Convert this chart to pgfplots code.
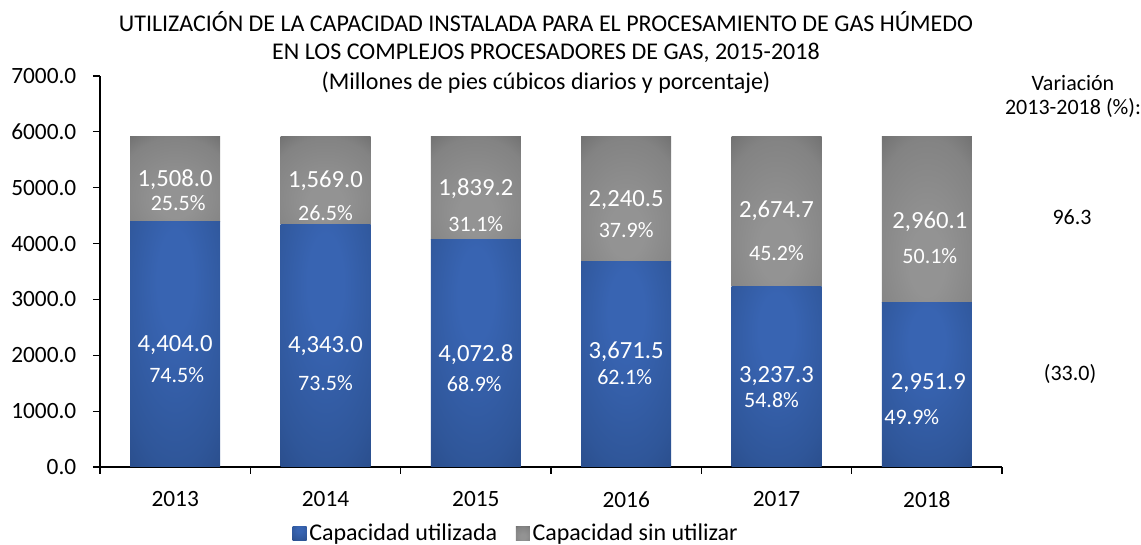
\documentclass[border=0pt]{standalone}
\usepackage{fontspec}
\setmainfont{Carlito}
\usepackage{pgfplots}
\pgfplotsset{compat=1.18}

\definecolor{blight}{HTML}{3864B2}
\definecolor{bmid}{HTML}{2F5699}
\definecolor{bedge}{HTML}{284A86}
\definecolor{bdark}{HTML}{1A2C50}
\definecolor{glight}{HTML}{939393}
\definecolor{gmid}{HTML}{838383}
\definecolor{gedge}{HTML}{686868}
\definecolor{gdark}{HTML}{404040}

\pgfdeclareradialshading{bluerad}{\pgfpoint{0bp}{15bp}}{color(0bp)=(blight); color(10bp)=(blight); color(33bp)=(bmid); color(45bp)=(bedge); color(54bp)=(bdark); color(75bp)=(bdark)}
\pgfdeclareradialshading{grayrad}{\pgfpoint{0bp}{-15bp}}{color(0bp)=(glight); color(10bp)=(glight); color(33bp)=(gmid); color(45bp)=(gedge); color(54bp)=(gdark); color(75bp)=(gdark)}

\tikzset{
  lbl/.style={text=white, font=\fontsize{18.5}{21}\selectfont, inner sep=0pt},
  pct/.style={text=white, font=\fontsize{16.5}{19}\selectfont, inner sep=0pt},
  usedbar/.style={draw=none, shading=bluerad, shade},
  freebar/.style={draw=none, shading=grayrad, shade},
  resetbar/.style={draw=none, fill=none},
}

\begin{document}
\begin{tikzpicture}
\useasboundingbox (0,0) rectangle (855.75pt,408.75pt);
\begin{axis}[
  at={(75pt,58.5pt)}, anchor=south west,
  scale only axis, width=676.5pt, height=293.25pt,
  xmin=-0.5, xmax=5.5, ymin=0, ymax=7000,
  ybar stacked, stack negative=on previous, bar width=67.5pt,
  axis x line=bottom, axis y line=left, axis line style={-, black, line width=0.9pt},
  xtick={0,...,5}, xticklabels={2013,2014,2015,2016,2017,2018},
  minor xtick={-0.5,0.5,...,5.5},
  ytick={0,1000,...,7000},
  tick align=outside,
  major tick length=5.25pt, minor tick length=5.25pt,
  major x tick style={draw=none},
  minor x tick style={black, line width=0.9pt},
  major y tick style={black, line width=0.9pt},
  /pgf/number format/assume math mode=true,
  yticklabel={\pgfmathprintnumber[fixed,fixed zerofill,precision=1,1000 sep={}]{\tick}},
  ticklabel style={font=\fontsize{17.5}{20}\selectfont, text=black},
  x tick label style={yshift=-9.5pt},
  y tick label style={xshift=-9pt},
  legend style={at={(0.4617,-0.169)}, anchor=center, draw=none, fill=none,
    legend columns=2, font=\fontsize{18}{20}\selectfont,
    /tikz/every even column/.append style={column sep=12pt},
    /tikz/every odd column/.append style={column sep=0pt}},
  legend image code/.code={\path[#1] (0pt,-5.25pt) rectangle (10.5pt,5.25pt);},
]
% 2013
\addplot[usedbar] coordinates {(0,4404.0)};
\addlegendentry{Capacidad utilizada}
\addplot[freebar] coordinates {(0,1508.0)};
\addlegendentry{Capacidad sin utilizar}
\addplot[resetbar, forget plot] coordinates {(0,-5912.0)};
% 2014
\addplot[usedbar, forget plot] coordinates {(1,4343.0)};
\addplot[freebar, forget plot] coordinates {(1,1569.0)};
\addplot[resetbar, forget plot] coordinates {(1,-5912.0)};
% 2015
\addplot[usedbar, forget plot] coordinates {(2,4072.8)};
\addplot[freebar, forget plot] coordinates {(2,1839.2)};
\addplot[resetbar, forget plot] coordinates {(2,-5912.0)};
% 2016
\addplot[usedbar, forget plot] coordinates {(3,3671.5)};
\addplot[freebar, forget plot] coordinates {(3,2240.5)};
\addplot[resetbar, forget plot] coordinates {(3,-5912.0)};
% 2017
\addplot[usedbar, forget plot] coordinates {(4,3237.3)};
\addplot[freebar, forget plot] coordinates {(4,2674.7)};
\addplot[resetbar, forget plot] coordinates {(4,-5912.0)};
% 2018
\addplot[usedbar, forget plot] coordinates {(5,2951.9)};
\addplot[freebar, forget plot] coordinates {(5,2960.1)};

\coordinate (a1) at (axis cs:0,5138);
\coordinate (a2) at (axis cs:0.02,4726);
\coordinate (a3) at (axis cs:0,2184);
\coordinate (a4) at (axis cs:0.01,1647);
\coordinate (b1) at (axis cs:1,5120);
\coordinate (b2) at (axis cs:1,4547);
\coordinate (b3) at (axis cs:1,2166);
\coordinate (b4) at (axis cs:1,1504);
\coordinate (c1) at (axis cs:2,4977);
\coordinate (c2) at (axis cs:2,4350);
\coordinate (c3) at (axis cs:2,2005);
\coordinate (c4) at (axis cs:1.99,1486);
\coordinate (d1) at (axis cs:3,4780);
\coordinate (d2) at (axis cs:3,4243);
\coordinate (d3) at (axis cs:3,2059);
\coordinate (d4) at (axis cs:2.99,1611);
\coordinate (e1) at (axis cs:4,4583);
\coordinate (e2) at (axis cs:4,3831);
\coordinate (e3) at (axis cs:4,1629);
\coordinate (e4) at (axis cs:3.967,1199);
\coordinate (f1) at (axis cs:5.02,4386);
\coordinate (f2) at (axis cs:5.02,3777);
\coordinate (f3) at (axis cs:5.01,1504);
\coordinate (f4) at (axis cs:4.9,895);
\end{axis}

\node[lbl] at (a1) {1,508.0};
\node[pct] at (a2) {25.5\%};
\node[lbl] at (a3) {4,404.0};
\node[pct] at (a4) {74.5\%};
\node[lbl] at (b1) {1,569.0};
\node[pct] at (b2) {26.5\%};
\node[lbl] at (b3) {4,343.0};
\node[pct] at (b4) {73.5\%};
\node[lbl] at (c1) {1,839.2};
\node[pct] at (c2) {31.1\%};
\node[lbl] at (c3) {4,072.8};
\node[pct] at (c4) {68.9\%};
\node[lbl] at (d1) {2,240.5};
\node[pct] at (d2) {37.9\%};
\node[lbl] at (d3) {3,671.5};
\node[pct] at (d4) {62.1\%};
\node[lbl] at (e1) {2,674.7};
\node[pct] at (e2) {45.2\%};
\node[lbl] at (e3) {3,237.3};
\node[pct] at (e4) {54.8\%};
\node[lbl] at (f1) {2,960.1};
\node[pct] at (f2) {50.1\%};
\node[lbl] at (f3) {2,951.9};
\node[pct] at (f4) {49.9\%};

\begin{scope}[every node/.style={font=\fontsize{18}{21}\selectfont, inner sep=0pt}]
\node at (409.5pt,392.25pt) {UTILIZACIÓN DE LA CAPACIDAD INSTALADA PARA EL PROCESAMIENTO DE GAS HÚMEDO};
\node at (409.5pt,369pt) {EN LOS COMPLEJOS PROCESADORES DE GAS, 2015-2018};
\node at (409.5pt,346.5pt) {(Millones de pies cúbicos diarios y porcentaje)};
\end{scope}
\begin{scope}[every node/.style={font=\fontsize{16.5}{19}\selectfont, inner sep=0pt}]
\node at (804.75pt,346.5pt) {Variación};
\node at (804.75pt,327.75pt) {2013-2018 (\%):};
\node at (804pt,246pt) {96.3};
\node at (802.5pt,128.25pt) {(33.0)};
\end{scope}
\end{tikzpicture}
\end{document}
